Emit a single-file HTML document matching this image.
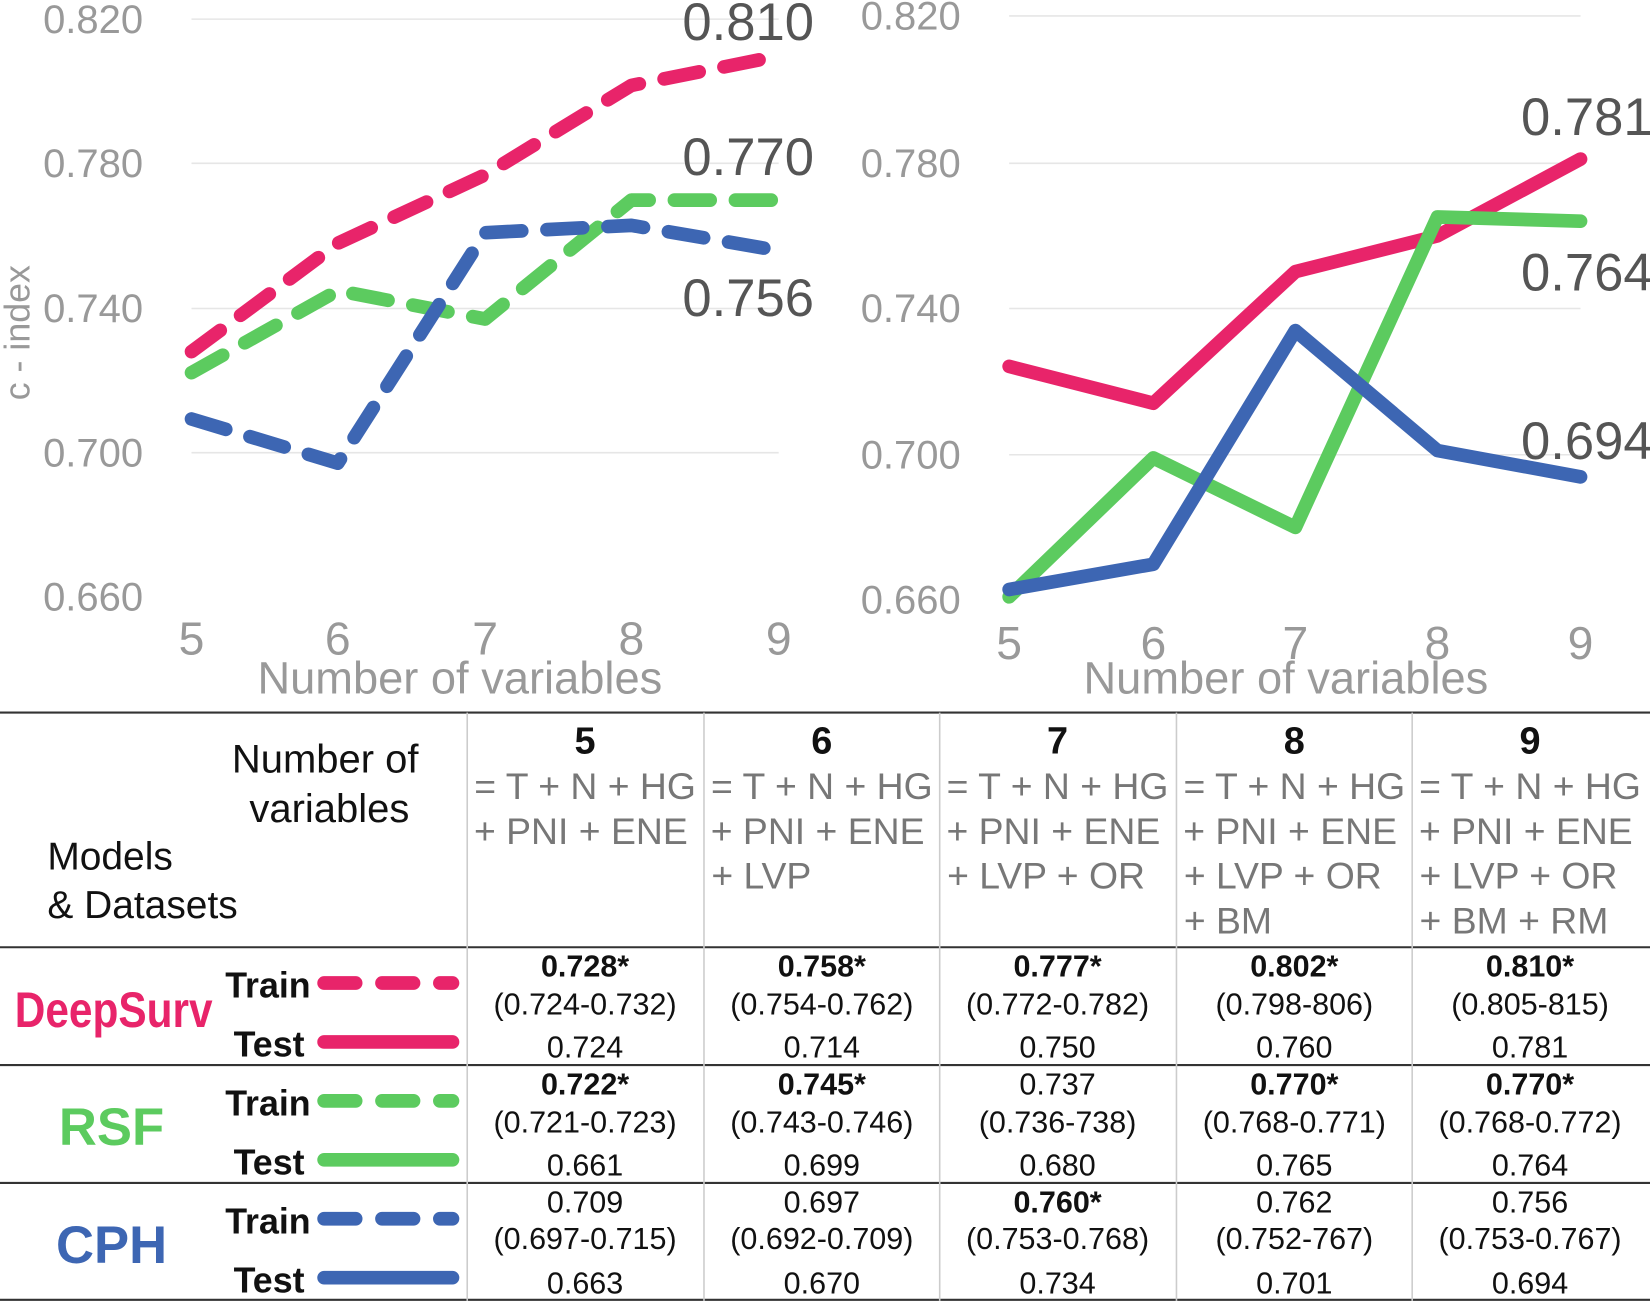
<!DOCTYPE html>
<html><head><meta charset="utf-8"><style>
html,body{margin:0;padding:0;background:#fff}
svg{display:block}
text{font-family:"Liberation Sans",Arial,sans-serif}
</style></head><body>
<svg width="1650" height="1301" viewBox="0 0 1568 1236" xmlns="http://www.w3.org/2000/svg">
<g stroke="#e6e6e6" stroke-width="1.5">
<line x1="182" x2="740" y1="18" y2="18"/><line x1="182" x2="740" y1="155" y2="155"/>
<line x1="182" x2="740" y1="293" y2="293"/><line x1="182" x2="740" y1="430" y2="430"/>
<line x1="959" x2="1502" y1="15" y2="15"/><line x1="959" x2="1502" y1="155" y2="155"/>
<line x1="959" x2="1502" y1="293" y2="293"/><line x1="959" x2="1502" y1="432" y2="432"/>
</g>
<g fill="#999" font-size="38" text-anchor="end">
<text x="136" y="31">0.820</text><text x="136" y="168">0.780</text><text x="136" y="306">0.740</text><text x="136" y="443">0.700</text><text x="136" y="580">0.660</text>
<text x="913" y="28">0.820</text><text x="913" y="168">0.780</text><text x="913" y="306">0.740</text><text x="913" y="445">0.700</text><text x="913" y="583">0.660</text>
</g>
<g fill="#999" font-size="44" text-anchor="middle">
<text x="182" y="622">5</text><text x="321" y="622">6</text><text x="461" y="622">7</text><text x="600" y="622">8</text><text x="740" y="622">9</text>
<text x="959" y="626">5</text><text x="1096" y="626">6</text><text x="1231" y="626">7</text><text x="1366" y="626">8</text><text x="1502" y="626">9</text>
<text x="437" y="659" font-size="43">Number of variables</text>
<text x="1222" y="659" font-size="43">Number of variables</text>
</g>
<text transform="translate(28,316) rotate(-90)" fill="#999" font-size="34" text-anchor="middle">c - index</text>
<g fill="none" stroke-width="13" stroke-linecap="round" stroke-linejoin="round" stroke-dasharray="34 24">
<polyline stroke="#e8246a" points="182,334 321,231 461,166 600,81 740,53"/>
<polyline stroke="#5ccb5f" points="182,354 321,276 461,303 600,190 740,190"/>
<polyline stroke="#3d66b3" points="182,398 321,440 461,221 600,214 740,238"/>
</g>
<g fill="none" stroke-width="13" stroke-linecap="round" stroke-linejoin="round">
<polyline stroke="#e8246a" points="959,348 1096,383 1231,258 1366,224 1502,151"/>
<polyline stroke="#5ccb5f" points="959,567 1096,435 1231,501 1366,206 1502,210"/>
<polyline stroke="#3d66b3" points="959,560 1096,536 1231,314 1366,428 1502,453"/>
</g>
<g fill="#555" font-size="50" text-anchor="middle">
<text x="711" y="38">0.810</text><text x="711" y="166">0.770</text><text x="711" y="300">0.756</text>
<text x="1508" y="128">0.781</text><text x="1508" y="276">0.764</text><text x="1508" y="436">0.694</text>
</g>
<g stroke="#333" stroke-width="2">
<line x1="0" x2="1568" y1="677" y2="677"/><line x1="0" x2="1568" y1="900" y2="900"/>
<line x1="0" x2="1568" y1="1012" y2="1012"/><line x1="0" x2="1568" y1="1124" y2="1124"/>
<line x1="0" x2="1568" y1="1235" y2="1235"/>
</g>
<g stroke="#ccc" stroke-width="1.5">
<line x1="444" x2="444" y1="677" y2="1236"/><line x1="669" x2="669" y1="677" y2="1236"/>
<line x1="893" x2="893" y1="677" y2="1236"/><line x1="1118" x2="1118" y1="677" y2="1236"/>
<line x1="1342" x2="1342" y1="677" y2="1236"/>
</g>
<g font-size="38" fill="#111" text-anchor="middle">
<text x="309" y="734">Number of</text><text x="313" y="781">variables</text>
</g>
<g font-size="37" fill="#111"><text x="45" y="826">Models</text><text x="45" y="872">&amp; Datasets</text></g>
<g text-anchor="middle">
<g font-size="36" font-weight="bold" fill="#111"><text x="556" y="716">5</text><text x="781" y="716">6</text><text x="1005" y="716">7</text><text x="1230" y="716">8</text><text x="1454" y="716">9</text></g>
<g font-size="35.5" fill="#777">
<text x="556" y="759">= T + N + HG</text><text x="552" y="802">+ PNI + ENE</text>
<text x="781" y="759">= T + N + HG</text><text x="777" y="802">+ PNI + ENE</text>
<text x="1005" y="759">= T + N + HG</text><text x="1001" y="802">+ PNI + ENE</text>
<text x="1230" y="759">= T + N + HG</text><text x="1226" y="802">+ PNI + ENE</text>
<text x="1454" y="759">= T + N + HG</text><text x="1450" y="802">+ PNI + ENE</text>
</g>
</g>
<g font-size="35.5" fill="#777">
<text x="676" y="844">+ LVP</text>
<text x="900" y="844">+ LVP + OR</text>
<text x="1125" y="844">+ LVP + OR</text><text x="1125" y="887">+ BM</text>
<text x="1349" y="844">+ LVP + OR</text><text x="1349" y="887">+ BM + RM</text>
</g>
<text x="14" y="976" font-size="48" font-weight="bold" fill="#e8246a" textLength="188" lengthAdjust="spacingAndGlyphs">DeepSurv</text>
<text x="106" y="1088" font-size="50" font-weight="bold" fill="#5ccb5f" text-anchor="middle">RSF</text>
<text x="106" y="1200" font-size="50" font-weight="bold" fill="#3d66b3" text-anchor="middle">CPH</text>
<g font-size="34" font-weight="bold" fill="#111">
<text x="214" y="948">Train</text><text x="222" y="1004">Test</text>
<text x="214" y="1060">Train</text><text x="222" y="1116">Test</text>
<text x="214" y="1172">Train</text><text x="222" y="1228">Test</text>
</g>
<g stroke-width="13" stroke-linecap="round">
<line x1="308" x2="430" y1="934" y2="934" stroke="#e8246a" stroke-dasharray="30 25"/>
<line x1="308" x2="430" y1="990" y2="990" stroke="#e8246a"/>
<line x1="308" x2="430" y1="1046" y2="1046" stroke="#5ccb5f" stroke-dasharray="30 25"/>
<line x1="308" x2="430" y1="1102" y2="1102" stroke="#5ccb5f"/>
<line x1="308" x2="430" y1="1158" y2="1158" stroke="#3d66b3" stroke-dasharray="30 25"/>
<line x1="308" x2="430" y1="1214" y2="1214" stroke="#3d66b3"/>
</g>
<g font-size="29" fill="#111" text-anchor="middle">
<g font-weight="bold"><text x="556" y="928">0.728*</text><text x="781" y="928">0.758*</text><text x="1005" y="928">0.777*</text><text x="1230" y="928">0.802*</text><text x="1454" y="928">0.810*</text></g>
<text x="556" y="964">(0.724-0.732)</text><text x="781" y="964">(0.754-0.762)</text><text x="1005" y="964">(0.772-0.782)</text><text x="1230" y="964">(0.798-806)</text><text x="1454" y="964">(0.805-815)</text>
<text x="556" y="1005">0.724</text><text x="781" y="1005">0.714</text><text x="1005" y="1005">0.750</text><text x="1230" y="1005">0.760</text><text x="1454" y="1005">0.781</text>
<g font-weight="bold"><text x="556" y="1040">0.722*</text><text x="781" y="1040">0.745*</text><text x="1230" y="1040">0.770*</text><text x="1454" y="1040">0.770*</text></g>
<text x="1005" y="1040">0.737</text>
<text x="556" y="1076">(0.721-0.723)</text><text x="781" y="1076">(0.743-0.746)</text><text x="1005" y="1076">(0.736-738)</text><text x="1230" y="1076">(0.768-0.771)</text><text x="1454" y="1076">(0.768-0.772)</text>
<text x="556" y="1117">0.661</text><text x="781" y="1117">0.699</text><text x="1005" y="1117">0.680</text><text x="1230" y="1117">0.765</text><text x="1454" y="1117">0.764</text>
<text x="556" y="1152">0.709</text><text x="781" y="1152">0.697</text><text x="1005" y="1152" font-weight="bold">0.760*</text><text x="1230" y="1152">0.762</text><text x="1454" y="1152">0.756</text>
<text x="556" y="1187">(0.697-0.715)</text><text x="781" y="1187">(0.692-0.709)</text><text x="1005" y="1187">(0.753-0.768)</text><text x="1230" y="1187">(0.752-767)</text><text x="1454" y="1187">(0.753-0.767)</text>
<text x="556" y="1229">0.663</text><text x="781" y="1229">0.670</text><text x="1005" y="1229">0.734</text><text x="1230" y="1229">0.701</text><text x="1454" y="1229">0.694</text>
</g>
</svg>
</body></html>
